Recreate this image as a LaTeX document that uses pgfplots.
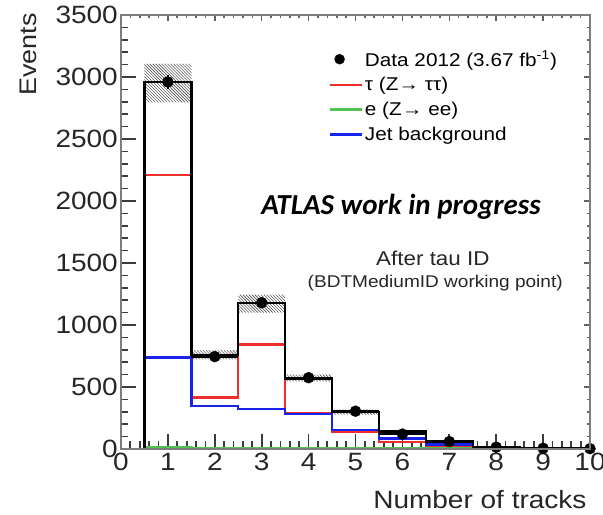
\documentclass[border=0pt]{standalone}
\usepackage{pgfplots}
\pgfplotsset{compat=1.18}
\usepackage{pgfplotstable}
\usetikzlibrary{patterns}
\usepackage{fontspec}
\setmainfont{Liberation Sans}[FakeStretch=1.12]
\newfontfamily\atlasfont{Carlito}

\definecolor{rootred}{RGB}{238,45,45}
\definecolor{rootgreen}{RGB}{80,195,80}
\definecolor{rootblue}{RGB}{25,35,235}
\definecolor{framegray}{RGB}{125,125,125}
\definecolor{tickgray}{RGB}{60,60,60}

% Histograms: left bin edges, last row closes the final bin
\pgfplotstableread{
x     tot   tau   ele  jet
0.5   0     0     0    0
0.5   2960  2210  12   736
1.5   760   414   10   345
2.5   1175  844   10   322
3.5   570   290   8    282
4.5   296   140   6    153
5.5   140   55    4    85
6.5   59    24    3    35
7.5   15    5     1    10
8.5   5     2     0    3
9.5   3     1     0    2
10.5  3     1     0    2
}\hist

% Data 2012
\pgfplotstableread{
x   y     ex   ey
1   2960  0.5  54
2   745   0.5  27
3   1180  0.5  34
4   575   0.5  24
5   305   0.5  17
6   120   0.5  11
7   60    0.5  8
8   15    0.5  4
9   6     0.5  3
10  3     0.5  2
}\data

\pgfplotsset{
  rootframe/.style={
    scale only axis,
    width=469bp, height=434bp,
    xmin=0, xmax=10, ymin=0, ymax=3500,
    xtick={0,1,2,3,4,5,6,7,8,9,10},
    ytick={0,500,1000,1500,2000,2500,3000,3500},
    minor x tick num=4,
    minor y tick num=4,
    tick align=inside,
    axis line style={framegray, line width=1.6pt},
  },
}

\begin{document}
\begin{tikzpicture}
\begin{axis}[
  name=ax,
  rootframe,
  xtick pos=bottom, ytick pos=left,
  tickwidth=15bp,
  subtickwidth=7.5bp,
  tick style={tickgray, line width=1.8pt},
  /pgf/number format/assume math mode=true,
  /pgf/number format/1000 sep={},
  yticklabel style={font=\fontsize{25bp}{28bp}\selectfont, black!85, inner sep=0pt, xshift=-3bp},
  xticklabel style={font=\fontsize{25bp}{28bp}\selectfont, black!85, inner sep=0pt, yshift=-4bp},
  legend style={at={(0.435,0.927)}, anchor=north west, draw=none, fill=none,
    font=\fontsize{18.5bp}{22bp}\selectfont, row sep=6bp},
  legend cell align=left,
]
  \addlegendimage{legend image code/.code={\draw[black, fill=black] (10bp,0bp) circle[radius=5bp];}}
  \addlegendentry{Data 2012 (3.67 fb\textsuperscript{-1})}
  \addlegendimage{legend image code/.code={\draw[rootred, line width=2.8pt] (0bp,0bp) -- (32bp,0bp);}}
  \addlegendentry{τ (Z→ ττ)}
  \addlegendimage{legend image code/.code={\draw[rootgreen, line width=2.8pt] (0bp,0bp) -- (32bp,0bp);}}
  \addlegendentry{e (Z→ ee)}
  \addlegendimage{legend image code/.code={\draw[rootblue, line width=2.8pt] (0bp,0bp) -- (32bp,0bp);}}
  \addlegendentry{Jet background}

  % hatched uncertainty band around the total prediction (upper edge, then lower edge back)
  \addplot[forget plot, draw=none, pattern=north west lines, pattern color=black!80] coordinates {
    (0.5,3105) (1.5,3105) (1.5,795) (2.5,795) (2.5,1245) (3.5,1245) (3.5,600) (4.5,600)
    (4.5,318) (5.5,318) (5.5,152) (6.5,152) (6.5,66) (7.5,66) (7.5,20) (8.5,20)
    (8.5,8) (9.5,8) (9.5,5) (10.5,5)
    (10.5,2) (9.5,2) (9.5,3) (8.5,3) (8.5,10) (7.5,10) (7.5,50) (6.5,50)
    (6.5,126) (5.5,126) (5.5,278) (4.5,278) (4.5,545) (3.5,545) (3.5,1100) (2.5,1100)
    (2.5,722) (1.5,722) (1.5,2795) (0.5,2795)
  } -- cycle;

  % components
  \addplot[forget plot, const plot mark left, rootred, line width=2.5pt] table[x=x, y=tau] {\hist};
  \addplot[forget plot, const plot mark left, rootgreen, line width=2.5pt] table[x=x, y=ele] {\hist};
  \addplot[forget plot, const plot mark left, rootblue, line width=2.5pt] table[x=x, y=jet] {\hist};
  % total prediction
  \addplot[forget plot, const plot mark left, black, line width=2.4pt] table[x=x, y=tot] {\hist};

  % data points
  \addplot[forget plot, only marks, mark=*, black, mark size=5.5bp,
    error bars/.cd, x dir=both, x explicit, y dir=both, y explicit,
    error bar style={line width=2.2pt, black}, error mark=none]
    table[x=x, y=y, x error=ex, y error=ey] {\data};

  \node[font=\atlasfont\bfseries\itshape\fontsize{29bp}{33bp}\selectfont] at (axis cs:5.97,1955) {ATLAS work in progress};
  \node[font=\fontsize{20bp}{24bp}\selectfont, black!85] at (axis cs:6.65,1540) {After tau ID};
  \node[font=\fontsize{17bp}{20bp}\selectfont, black!85] at (axis cs:6.7,1340) {(BDTMediumID working point)};
\end{axis}
% short ticks on the top and right edges
\begin{axis}[
  rootframe,
  xtick pos=top, ytick pos=right,
  tickwidth=6bp,
  subtickwidth=3.5bp,
  xticklabels={}, yticklabels={},
  tick style={tickgray!80, line width=1.6pt},
]
\end{axis}
\node[rotate=90, anchor=base east, font=\fontsize{24bp}{27bp}\selectfont, black!85]
  at ([xshift=-84bp, yshift=5bp]ax.north west) {Events};
\node[anchor=base east, font=\fontsize{25bp}{28bp}\selectfont, black!85]
  at ([yshift=-59bp]ax.south east) {Number of tracks};
\pgfresetboundingbox
\path[use as bounding box] ([shift={(-121bp,-66bp)}]ax.south west) rectangle ([shift={(13bp,15bp)}]ax.north east);
\end{tikzpicture}
\end{document}
